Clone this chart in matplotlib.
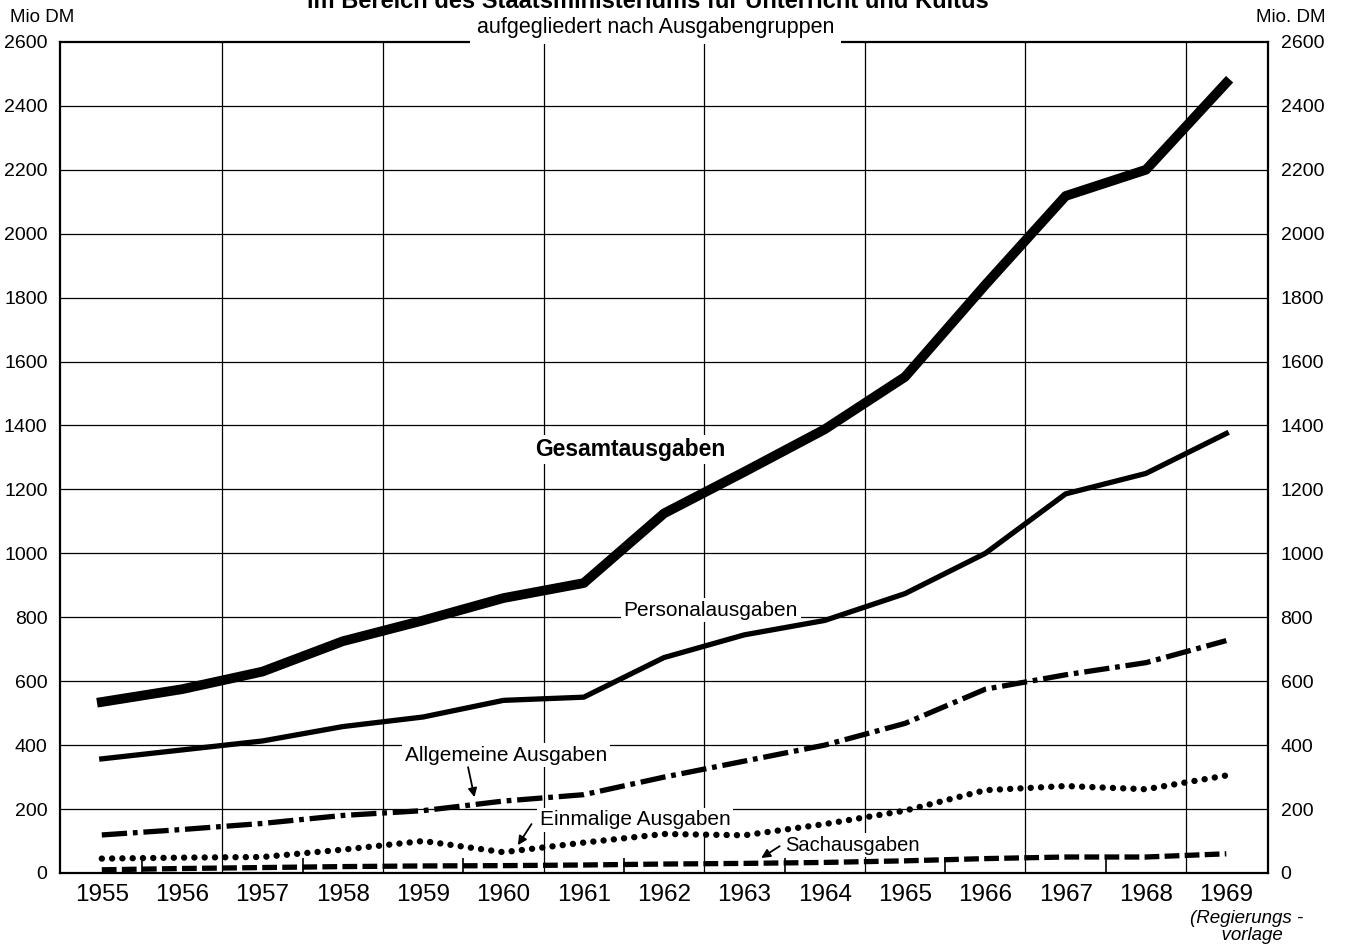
import numpy as np
import matplotlib.pyplot as plt

plt.rcParams['font.family'] = ['Liberation Sans', 'DejaVu Sans']

# values (Mio DM)
years = list(range(1955, 1970))
gesamt = [535, 575, 630, 725, 790, 860, 907, 1125, 1255, 1388, 1552, 1840, 2118, 2200, 2472]
personal = [357, 385, 413, 458, 488, 540, 550, 674, 745, 790, 874, 1000, 1186, 1250, 1375]
allgemein = [119, 136, 155, 180, 195, 225, 245, 300, 350, 400, 468, 575, 620, 658, 727]
einmalig = [45, 48, 50, 73, 100, 65, 95, 122, 118, 153, 195, 259, 272, 262, 305]
sach = [10, 14, 17, 20, 22, 23, 25, 28, 30, 33, 38, 45, 50, 50, 60]
y_ticks = list(range(0, 2601, 200))

fig = plt.figure(figsize=(13.46, 9.52), dpi=100)
ax = fig.add_axes([0.0446, 0.083, 0.8975, 0.873])

ax.set_xlim(1954.48, 1969.52)
ax.set_ylim(0, 2600)

# grid
for v in y_ticks[1:-1]:
    ax.axhline(v, color='black', lw=0.9, zorder=1)
for v in np.arange(1956.5, 1969, 2):
    ax.axvline(v, color='black', lw=0.9, zorder=1)

ax.plot(years, gesamt, color='black', lw=7, solid_joinstyle='round', zorder=5)
ax.plot(years, personal, color='black', lw=3.8, solid_joinstyle='round', zorder=5)
ax.plot(years, allgemein, color='black', lw=3.8, dashes=(4.8, 1.1, 0.9, 1.1), zorder=5)
ax.plot(years, einmalig, color='black', lw=4.6, dashes=(0.01, 1.6),
        dash_capstyle='round', zorder=5)
ax.plot(years, sach, color='black', lw=3.8, dashes=(2.8, 1.0), zorder=5)

for s in ax.spines.values():
    s.set_linewidth(1.6)

ax.set_xticks(years)
ax.set_xticklabels([str(y) for y in years], fontsize=17.5)
ax.set_xticks(np.arange(1955.5, 1968, 2), minor=True)
ax.tick_params(axis='x', which='major', length=0, pad=8)
ax.tick_params(axis='x', which='minor', direction='in', length=11, width=1.2)

ax.set_yticks(y_ticks)
ax.set_yticklabels([str(v) for v in y_ticks], fontsize=14)
ax.tick_params(axis='y', length=0, labelright=True, pad=9)

box = dict(facecolor='white', edgecolor='none', pad=2)
ax.text(1961.58, 1325, 'Gesamtausgaben', fontsize=16.5, fontweight='bold',
        ha='center', va='center', bbox=box, zorder=4)
ax.text(1962.58, 822, 'Personalausgaben', fontsize=15, ha='center', va='center',
        bbox=box, zorder=4)
ax.text(1960.03, 369, 'Allgemeine Ausgaben', fontsize=15, ha='center', va='center',
        bbox=box, zorder=4)
ax.text(1961.64, 166, 'Einmalige Ausgaben', fontsize=15, ha='center', va='center',
        bbox=box, zorder=4)
ax.text(1964.34, 87, 'Sachausgaben', fontsize=14.5, ha='center', va='center',
        bbox=box, zorder=4)

arrow = dict(arrowstyle='-|>', color='black', lw=1.3, mutation_scale=13,
             shrinkA=0, shrinkB=0)
ax.annotate('', xy=(1959.64, 237), xytext=(1959.56, 331), arrowprops=arrow, zorder=6)
ax.annotate('', xy=(1960.18, 87), xytext=(1960.35, 153), arrowprops=arrow, zorder=6)
ax.annotate('', xy=(1963.21, 47), xytext=(1963.44, 84), arrowprops=arrow, zorder=6)

# headings (title is cut off at the top edge in the original)
fig.text(0.481, 1 - 8 / 952, 'im Bereich des Staatsministeriums für Unterricht und Kultus',
         fontsize=17, fontweight='bold', ha='center', va='baseline')
fig.text(0.487, 1 - 27 / 952, 'aufgegliedert nach Ausgabengruppen', fontsize=15.5,
         ha='center', va='center',
         bbox=dict(facecolor='white', edgecolor='none', pad=5), zorder=10)
fig.text(10 / 1346, 1 - 18 / 952, 'Mio DM', fontsize=13.5, ha='left', va='center')
fig.text(1325 / 1346, 1 - 18 / 952, 'Mio. DM', fontsize=13.5, ha='right', va='center')
fig.text(1247 / 1346, 1 - 927 / 952, '(Regierungs -\n  vorlage', fontsize=13.5,
         style='italic', ha='center', va='center', linespacing=0.95)

fig.savefig('out.png', dpi=100, facecolor='white')
